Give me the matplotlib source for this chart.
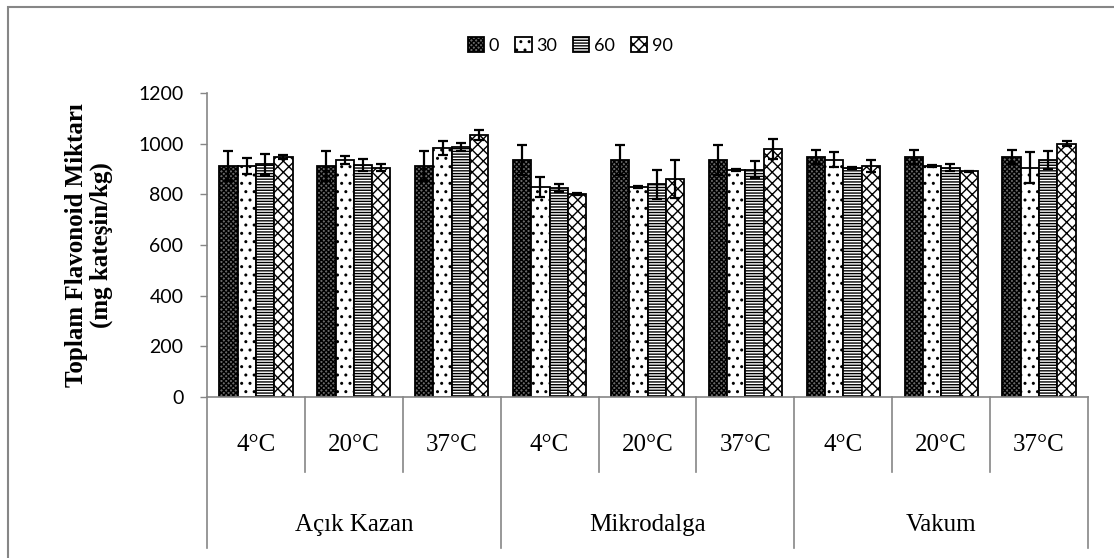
import numpy as np
import matplotlib
matplotlib.use('Agg')
import matplotlib.pyplot as plt
from matplotlib.patches import Rectangle
from matplotlib.lines import Line2D

temps = ['4°C', '20°C', '37°C'] * 3
methods = ['Açık Kazan', 'Mikrodalga', 'Vakum']
series = ['0', '30', '60', '90']

v0 = [913, 913, 913, 936, 936, 936, 949, 949, 949]
v30 = [912, 936, 982, 830, 830, 896, 936, 912, 905]
v60 = [918, 916, 986, 824, 840, 898, 904, 905, 936]
v90 = [947, 905, 1035, 801, 861, 978, 912, 891, 1000]
e0 = [60, 60, 60, 58, 58, 58, 28, 28, 28]
e30 = [33, 15, 28, 39, 3, 3, 30, 3, 62]
e60 = [40, 24, 16, 16, 58, 32, 3, 14, 36]
e90 = [9, 13, 20, 3, 74, 40, 25, 3, 10]

yticks = [0, 200, 400, 600, 800, 1000, 1200]

plt.rcParams['hatch.linewidth'] = 1.0
fig = plt.figure(figsize=(11.14, 5.58), dpi=100)
ax = fig.add_axes([0.1858, 0.2885, 0.7909, 0.5448])

gray = '#868686'
x = np.arange(len(temps))
w = 0.187
vals = [v0, v30, v60, v90]
errs = [e0, e30, e60, e90]
faces = ['#6a6a6a', 'white', 'white', 'white']
hatches = ['xxxxxxx', '..', '------', 'xxx']
handles = []
for k in range(4):
    bars = ax.bar(x + (k - 1.5) * w, vals[k], w, color=faces[k], hatch=hatches[k],
                  edgecolor='black', linewidth=1.3, zorder=2)
    ax.errorbar(x + (k - 1.5) * w, vals[k], yerr=errs[k], fmt='none', ecolor='black',
                elinewidth=1.6, capsize=3.5, capthick=1.6, zorder=3)
    handles.append(bars[0])

ax.set_xlim(-0.5, 8.5)
ax.set_ylim(0, 1200)
ax.set_yticks(yticks)
ax.set_yticklabels([str(t) for t in yticks], fontsize=14, family='Lato')
ax.tick_params(axis='y', direction='out', length=5, color=gray, width=1, pad=12)
ax.set_xticks([])
for s in ['top', 'right']:
    ax.spines[s].set_visible(False)
for s in ['left', 'bottom']:
    ax.spines[s].set_color(gray)
    ax.spines[s].set_linewidth(1.2)

# multi-level category axis
trans = ax.get_xaxis_transform()
for b in np.arange(-0.5, 9.0, 1.0):
    low = -0.497 if b in (-0.5, 2.5, 5.5, 8.5) else -0.247
    ax.add_line(Line2D([b, b], [0, low], transform=trans, color=gray, lw=1.2, clip_on=False))
for i, t in enumerate(temps):
    ax.text(i, -0.158, t, transform=trans, ha='center', va='center',
            fontsize=18, family='Liberation Serif')
for j, m in enumerate(methods):
    ax.text(3 * j + 1, -0.421, m, transform=trans, ha='center', va='center',
            fontsize=18, family='Liberation Serif')

ax.set_ylabel('Toplam Flavonoid Miktarı\n(mg kateşin/kg)', fontsize=18,
              family='Liberation Serif', fontweight='bold', labelpad=18, linespacing=1.1)

fig.legend(handles, series, loc='center', bbox_to_anchor=(0.512, 0.919), ncol=4,
           frameon=False, handlelength=0.9, handleheight=0.9,
           handletextpad=0.25, columnspacing=0.9, prop={'family': 'Lato', 'size': 13})

fig.patches.append(Rectangle((8 / 1114, -0.05), 1.1, 1 - 7 / 558 + 0.05,
                             transform=fig.transFigure, fill=False,
                             edgecolor=gray, lw=1.5))

fig.savefig('out.png', dpi=100)
